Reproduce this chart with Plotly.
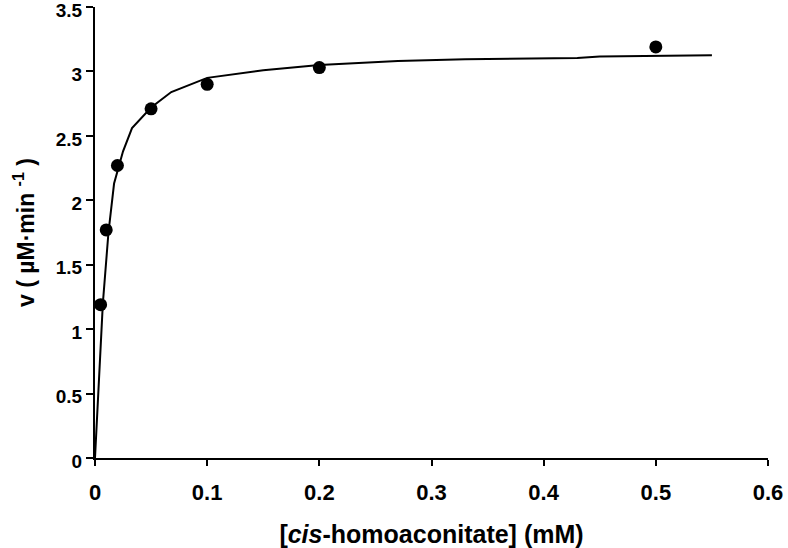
import plotly.graph_objects as go

# Measured data points
conc_mM = [0.005, 0.01, 0.02, 0.05, 0.1, 0.2, 0.5]
rate = [1.19, 1.77, 2.27, 2.71, 2.90, 3.03, 3.19]

# Fitted curve (vertices)
fit_x = [0, 0.007, 0.012, 0.017, 0.025, 0.033, 0.05, 0.068, 0.1, 0.15, 0.2, 0.27, 0.33, 0.43, 0.45, 0.55]
fit_y = [0, 1.20, 1.75, 2.13, 2.38, 2.56, 2.72, 2.84, 2.95, 3.01, 3.05, 3.08, 3.095, 3.105, 3.115, 3.125]

x_ticks = [0, 0.1, 0.2, 0.3, 0.4, 0.5, 0.6]
x_tick_text = ["0", "0.1", "0.2", "0.3", "0.4", "0.5", "0.6"]
y_ticks = [0, 0.5, 1, 1.5, 2, 2.5, 3, 3.5]
y_tick_text = ["0", "0.5", "1", "1.5", "2", "2.5", "3", "3.5"]

font_family = "Liberation Sans, Arial, sans-serif"

fig = go.Figure()
fig.add_trace(go.Scatter(x=fit_x, y=fit_y, mode="lines",
                         line=dict(color="black", width=2), showlegend=False,
                         hoverinfo="skip"))
fig.add_trace(go.Scatter(x=conc_mM, y=rate, mode="markers",
                         marker=dict(color="black", size=13), showlegend=False))

fig.update_layout(
    width=788, height=548,
    margin=dict(l=95, r=20, t=7, b=90),
    paper_bgcolor="white", plot_bgcolor="white",
    font=dict(family=font_family, size=22, color="black"),
    xaxis=dict(range=[0, 0.6], tickvals=x_ticks, ticktext=x_tick_text,
               automargin=False, ticklabeloverflow="allow",
               showgrid=False, zeroline=False, showline=True,
               linecolor="black", linewidth=2,
               ticks="outside", ticklen=6, tickwidth=2, tickcolor="black",
               ticklabelstandoff=8,
               tickfont=dict(family=font_family, size=22, weight="bold"),
               title=dict(text="[<i>cis</i>-homoaconitate] (mM)",
                          font=dict(family=font_family, size=25, weight="bold"),
                          standoff=24)),
    yaxis=dict(range=[0, 3.5], tickvals=y_ticks, ticktext=y_tick_text,
               automargin=False, ticklabeloverflow="allow",
               showgrid=False, zeroline=False, showline=True,
               linecolor="black", linewidth=2,
               ticks="outside", ticklen=7, tickwidth=2, tickcolor="black",
               ticklabelshift=3,
               tickfont=dict(family=font_family, size=19, weight="bold"),
               title=dict(text="v ( µM·min <sup>-1</sup> )",
                          font=dict(family=font_family, size=23, weight="bold"),
                          standoff=15)),
)

fig.write_html("out.html",
               config={"displayModeBar": False},
               post_script="document.body.style.margin='0';document.body.style.overflow='hidden';")
